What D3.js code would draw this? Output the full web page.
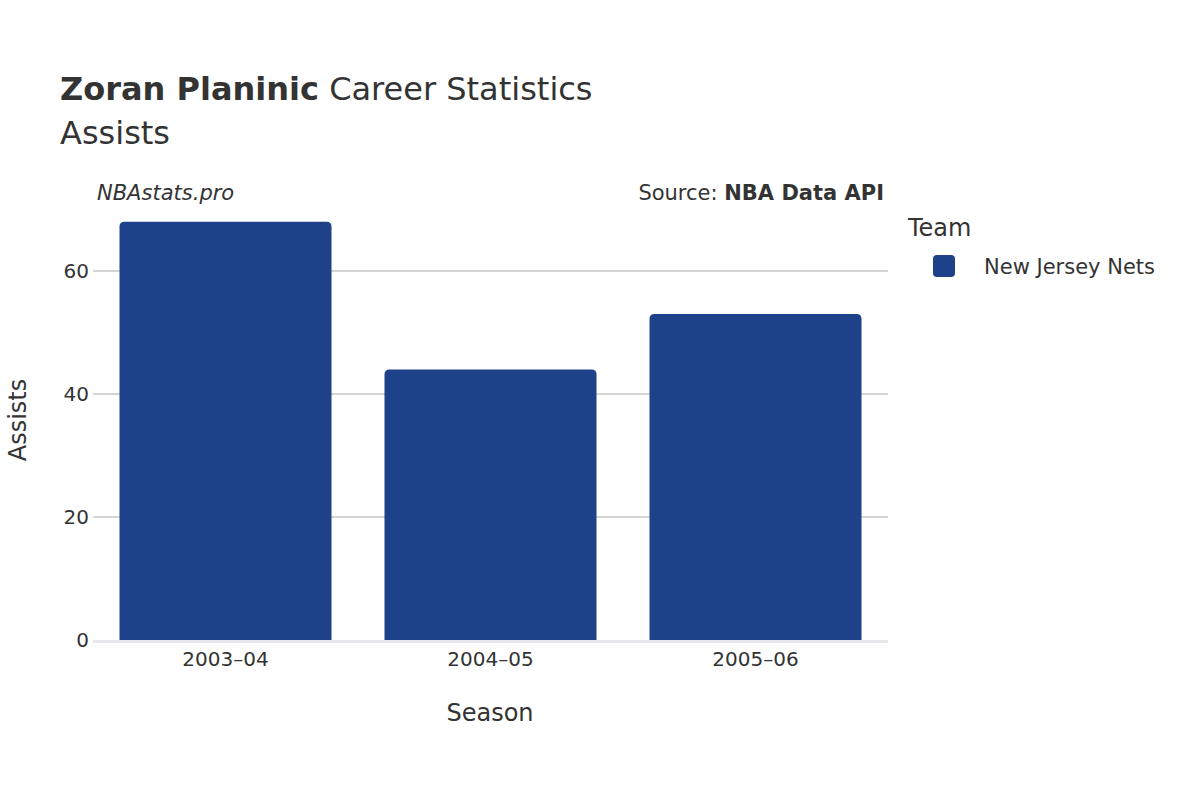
<!DOCTYPE html>
<html><head><meta charset="utf-8">
<script src="https://cdn.jsdelivr.net/npm/d3@7"></script>
<style>body{margin:0;background:#fff}text{font-family:"DejaVu Sans",sans-serif;fill:#333}</style>
</head><body><svg id="c" width="1200" height="800"></svg>
<script>
const seasons = ["2003–04","2004–05","2005–06"];
const assists = [68,44,53];
const yTicks = [0,20,40,60];
const teamName = "New Jersey Nets";
const color = "#1d428a";

const svg = d3.select("#c");
const m = {l:93, r:888, t:180, b:640};
const x = d3.scaleBand().domain(seasons).range([m.l,m.r]).paddingInner(0.2).paddingOuter(0.1);
const y = d3.scaleLinear().domain([0,72.5]).range([m.b, m.b-(72.5*369/60)]);

svg.append("g").selectAll("line").data(yTicks.filter(d=>d>0)).join("line")
  .attr("x1",m.l).attr("x2",m.r).attr("y1",d=>y(d)).attr("y2",d=>y(d))
  .attr("stroke","#aaa").attr("stroke-width",1);
svg.append("line").attr("x1",m.l).attr("x2",m.r).attr("y1",y(0)+1.5).attr("y2",y(0)+1.5)
  .attr("stroke","#e8e8ec").attr("stroke-width",3);

svg.append("g").selectAll("path").data(seasons).join("path")
  .attr("fill",color)
  .attr("d",(s,i)=>{const x0=x(s),w=x.bandwidth(),y0=y(assists[i]),y1=y(0),r=5;
    return `M${x0},${y1}V${y0+r}Q${x0},${y0} ${x0+r},${y0}H${x0+w-r}Q${x0+w},${y0} ${x0+w},${y0+r}V${y1}Z`;});

svg.append("g").selectAll("text").data(yTicks).join("text")
  .attr("x",m.l-4).attr("y",d=>y(d)).attr("dy","0.35em").attr("text-anchor","end")
  .attr("font-size",20).text(d=>d);
svg.append("g").selectAll("text").data(seasons).join("text")
  .attr("x",s=>x(s)+x.bandwidth()/2).attr("y",666).attr("text-anchor","middle")
  .attr("font-size",20).text(s=>s);

svg.append("text").attr("x",490).attr("y",721).attr("text-anchor","middle").attr("font-size",24).text("Season");
svg.append("text").attr("transform","translate(26,420) rotate(-90)").attr("text-anchor","middle").attr("font-size",24).text("Assists");

const t = svg.append("text").attr("x",60).attr("y",100).attr("font-size",32);
t.append("tspan").attr("font-weight","bold").text("Zoran Planinic");
t.append("tspan").text(" Career Statistics");
svg.append("text").attr("x",60).attr("y",144).attr("font-size",32).text("Assists");

svg.append("text").attr("x",97).attr("y",200).attr("font-size",21).attr("font-style","italic").text("NBAstats.pro");
const s = svg.append("text").attr("x",884).attr("y",200).attr("font-size",21).attr("text-anchor","end");
s.append("tspan").text("Source: ");
s.append("tspan").attr("font-weight","bold").text("NBA Data API");

svg.append("text").attr("x",908).attr("y",236).attr("font-size",24).text("Team");
svg.append("rect").attr("x",933).attr("y",255).attr("width",22).attr("height",22).attr("rx",4).attr("fill",color);
svg.append("text").attr("x",984).attr("y",274).attr("font-size",21).text(teamName);
</script></body></html>
